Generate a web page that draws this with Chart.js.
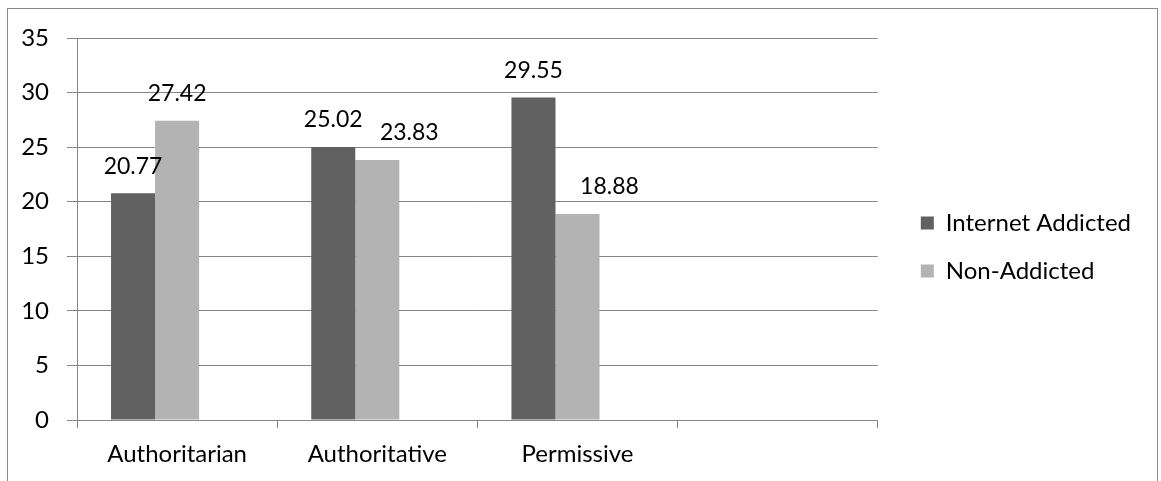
<!DOCTYPE html>
<html>
<head>
<meta charset="utf-8">
<script src="https://cdn.jsdelivr.net/npm/chart.js@4/dist/chart.umd.min.js"></script>
<style>
  html, body { margin: 0; padding: 0; background: #ffffff; }
  #wrap { position: relative; width: 1161px; height: 481px; overflow: hidden; }
  #frame { position: absolute; left: 7px; top: 8px; width: 1151px; height: 520px; border: 1px solid #8a8a8a; box-sizing: border-box; }
  #c { position: absolute; left: 0; top: 0; }
</style>
</head>
<body>
<div id="wrap">
  <div id="frame"></div>
  <canvas id="c" width="1161" height="481"></canvas>
</div>
<script>
// Parenting style scores by group
const categories = ['Authoritarian', 'Authoritative', 'Permissive', ''];
const internetAddicted = [20.77, 25.02, 29.55, null];
const nonAddicted = [27.42, 23.83, 18.88, null];
const spareSeries = [null, null, null, null];
const yTicks = [0, 5, 10, 15, 20, 25, 30, 35];

const FONT = 'Lato, "Open Sans", sans-serif';
const FONT_SIZE = 24;
const LABEL_FONT_SIZE = 23;
const AXIS_GREY = '#868686';

// Horizontal nudges (px) for value labels, per dataset and category
const labelNudge = [
  [0, 0, 0, 0],
  [0, 32, 32, 0],
  [0, 0, 0, 0]
];

// Value labels printed above each bar
const barValueLabels = {
  id: 'barValueLabels',
  afterDatasetsDraw(chart) {
    const ctx = chart.ctx;
    ctx.save();
    ctx.font = LABEL_FONT_SIZE + 'px ' + FONT;
    ctx.fillStyle = '#000000';
    ctx.textAlign = 'center';
    ctx.textBaseline = 'middle';
    chart.data.datasets.forEach((ds, di) => {
      const meta = chart.getDatasetMeta(di);
      meta.data.forEach((bar, i) => {
        const v = ds.data[i];
        if (v === null || v === undefined) return;
        ctx.fillText(v.toFixed(2), bar.x + labelNudge[di][i], bar.y - 27);
      });
    });
    ctx.restore();
  }
};

// Empty spacer axis used only to reserve room in the layout
const spacer = (pos, size) => ({
  position: pos,
  display: true,
  grid: { display: false },
  border: { display: false },
  ticks: { display: false },
  afterFit: s => {
    if (pos === 'top' || pos === 'bottom') { s.height = size; } else { s.width = size; }
  }
});

new Chart(document.getElementById('c'), {
  type: 'bar',
  data: {
    labels: categories,
    datasets: [
      { label: 'Internet Addicted', data: internetAddicted, backgroundColor: '#616161' },
      { label: 'Non-Addicted', data: nonAddicted, backgroundColor: '#b3b3b3' },
      { label: '', data: spareSeries, backgroundColor: '#ffffff' }
    ]
  },
  options: {
    responsive: false,
    animation: false,
    events: [],
    categoryPercentage: 0.66,
    barPercentage: 1.0,
    layout: { padding: { top: 24, right: 20, bottom: 11, left: 0 } },
    plugins: {
      tooltip: { enabled: false },
      legend: {
        position: 'right',
        align: 'center',
        maxWidth: 400,
        labels: {
          filter: item => item.text !== '',
          boxWidth: 13,
          boxHeight: 13,
          padding: 24,
          color: '#000000',
          font: { family: FONT, size: FONT_SIZE }
        }
      }
    },
    scales: {
      x: {
        grid: { display: true, drawOnChartArea: false, offset: true, tickLength: 8, color: AXIS_GREY },
        border: { display: true, color: AXIS_GREY, width: 1 },
        ticks: { color: '#000000', font: { family: FONT, size: FONT_SIZE }, padding: 12, maxRotation: 0 },
        afterFit: s => { s.height = 50; }
      },
      y: {
        min: 0,
        max: 35,
        afterBuildTicks: s => { s.ticks = yTicks.map(v => ({ value: v })); },
        grid: { color: AXIS_GREY, tickLength: 10 },
        border: { display: true, color: AXIS_GREY, width: 1 },
        ticks: { color: '#000000', font: { family: FONT, size: FONT_SIZE }, padding: 18 },
        afterFit: s => { s.width = 77; }
      },
      topGap: spacer('top', 14),
      rightGap: spacer('right', 19)
    }
  },
  plugins: [barValueLabels]
});
</script>
</body>
</html>
